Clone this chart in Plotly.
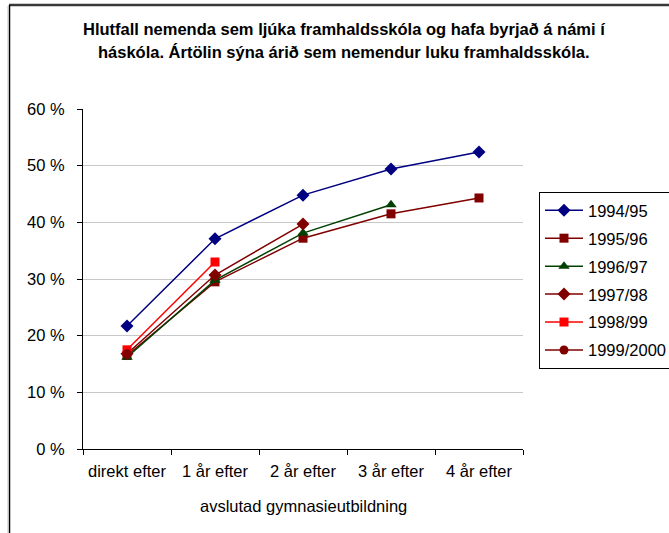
import plotly.graph_objects as go

categories = ["direkt efter", "1 år efter", "2 år efter", "3 år efter", "4 år efter"]
series_names = ["1994/95", "1995/96", "1996/97", "1997/98", "1998/99", "1999/2000"]
v_1994_95 = [21.7, 37.1, 44.8, 49.4, 52.4]
v_1995_96 = [16.5, 29.5, 37.2, 41.5, 44.3]
v_1996_97 = [16.2, 29.8, 38.1, 43.1]
v_1997_98 = [16.8, 30.7, 39.7]
v_1998_99 = [17.5, 33.0]
v_1999_2000 = [16.8]
y_ticks = [0, 10, 20, 30, 40, 50, 60]

values = [v_1994_95, v_1995_96, v_1996_97, v_1997_98, v_1998_99, v_1999_2000]
colors = ["#000080", "#800000", "#004000", "#800000", "#FF0000", "#800000"]
symbols = ["diamond", "square", "triangle-up", "diamond", "square", "circle"]
sizes = [10, 9, 10, 10, 9, 9]

W, H = 669, 533
L, R, T, B = 83, 523, 109, 449          # plot area in page px
pw, ph = R - L, B - T
FS = 16.5

def px(xs):
    return (xs - L) / pw

def py(ys):
    return (B - ys) / ph

fig = go.Figure()
for i, name in enumerate(series_names):
    vals = values[i]
    fig.add_trace(go.Scatter(
        x=categories[:len(vals)], y=vals, name=name, mode="lines+markers",
        legendgroup=name,
        line=dict(color=colors[i], width=1.5),
        marker=dict(symbol=symbols[i], size=sizes[i], color=colors[i]),
    ))

fig.update_layout(
    width=W, height=H,
    margin=dict(l=L, r=W - R, t=T, b=H - B, pad=0, autoexpand=False),
    paper_bgcolor="white", plot_bgcolor="white",
    font=dict(family="Liberation Sans, Arial, sans-serif", size=FS, color="black"),
    showlegend=True,
    legend=dict(
        x=px(539), y=py(192), xanchor="left", yanchor="top",
        bgcolor="white", bordercolor="black", borderwidth=1,
        font=dict(size=FS), tracegroupgap=3.5, itemwidth=38,
    ),
    annotations=[
        dict(text="<b>Hlutfall nemenda sem ljúka framhaldsskóla og hafa byrjað á námi í</b>",
             xref="paper", yref="paper", x=px(344), y=py(29), xanchor="center", yanchor="middle",
             showarrow=False, font=dict(size=FS)),
        dict(text="<b>háskóla. Ártölin sýna árið sem nemendur luku framhaldsskóla.</b>",
             xref="paper", yref="paper", x=px(344), y=py(52), xanchor="center", yanchor="middle",
             showarrow=False, font=dict(size=FS)),
        dict(text="avslutad gymnasieutbildning", xref="paper", yref="paper",
             x=px(303), y=py(506), xanchor="center", yanchor="middle",
             showarrow=False, font=dict(size=FS)),
    ],
    shapes=[
        # chart frame (top and left edges visible)
        dict(type="line", xref="paper", yref="paper", x0=px(9), x1=px(700), y0=py(5), y1=py(5),
             line=dict(color="#383838", width=2.5), layer="above"),
        dict(type="line", xref="paper", yref="paper", x0=px(9.5), x1=px(9.5), y0=py(5), y1=py(560),
             line=dict(color="black", width=1.5), layer="above"),
        dict(type="line", xref="paper", yref="paper", x0=px(8), x1=px(8), y0=py(6), y1=py(560),
             line=dict(color="#C0C0C0", width=1), layer="above"),
        # legend shadow
        dict(type="line", xref="paper", yref="paper", x0=px(541), x1=px(700), y0=py(365), y1=py(365),
             line=dict(color="#808080", width=2), layer="below"),
    ],
)

fig.update_xaxes(
    type="category", categoryorder="array", categoryarray=categories,
    range=[-0.5, 4.5], showgrid=False, showline=True, linecolor="black", linewidth=1,
    ticks="outside", tickson="boundaries", ticklen=5, tickcolor="black",
    tickangle=0, ticklabelstandoff=7, tickfont=dict(size=FS),
)
fig.update_yaxes(
    range=[0, 60], tickvals=y_ticks, ticktext=[f"{v} %" for v in y_ticks],
    showgrid=True, gridcolor="#C8C8C8", gridwidth=1,
    showline=True, linecolor="black", linewidth=1,
    ticks="outside", ticklen=5, tickcolor="black", zeroline=False,
    ticklabelstandoff=9, tickfont=dict(size=FS),
)

fig.write_html("out.html", config={"displayModeBar": False},
               post_script="document.body.style.margin='0px';document.body.style.overflow='hidden';")
